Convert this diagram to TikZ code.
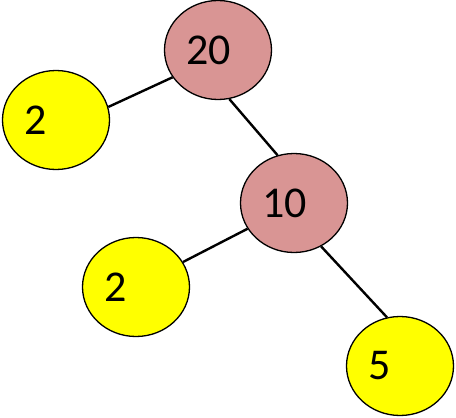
\documentclass[tikz,border=0pt]{standalone}
\usepackage{fontspec}
\setmainfont{Carlito}
\usetikzlibrary{shapes.geometric}
\definecolor{pinkfill}{HTML}{D99594}
\definecolor{yellowfill}{HTML}{FFFF00}
\tikzset{
  vert/.style={ellipse, draw=black, line width=1.3pt, minimum width=107pt, minimum height=99pt, inner sep=0pt},
  pinkv/.style={vert, fill=pinkfill},
  yelv/.style={vert, fill=yellowfill},
  lbl/.style={anchor=west, inner sep=0pt, font=\fontsize{44}{50}\selectfont},
  edge/.style={line width=2.4pt}
}
\begin{document}
\begin{tikzpicture}[x=1pt,y=-1pt]
\useasboundingbox (0,0) rectangle (456,418);
\node[pinkv] (n20) at (218,50) {};
\node[yelv] (n2a) at (56,120) {};
\node[pinkv] (n10) at (294,203) {};
\node[yelv] (n2b) at (136,287) {};
\node[yelv] (n5) at (400,366) {};
\node[lbl] (t20) at ([xshift=22pt]n20.west) {20};
\node[lbl] (t2a) at ([xshift=22pt]n2a.west) {2};
\node[lbl] (t10) at ([xshift=22pt]n10.west) {10};
\node[lbl] (t2b) at ([xshift=22pt]n2b.west) {2};
\node[lbl] (t5) at ([xshift=22pt]n5.west) {5};
\draw[edge] (n20.211) -- (n2a.14);
\draw[edge] (n20.-77) -- (n10.109);
\draw[edge] (n10.209) -- (n2b.28);
\draw[edge] (n10.-58) -- (n5.105);
\end{tikzpicture}
\end{document}
